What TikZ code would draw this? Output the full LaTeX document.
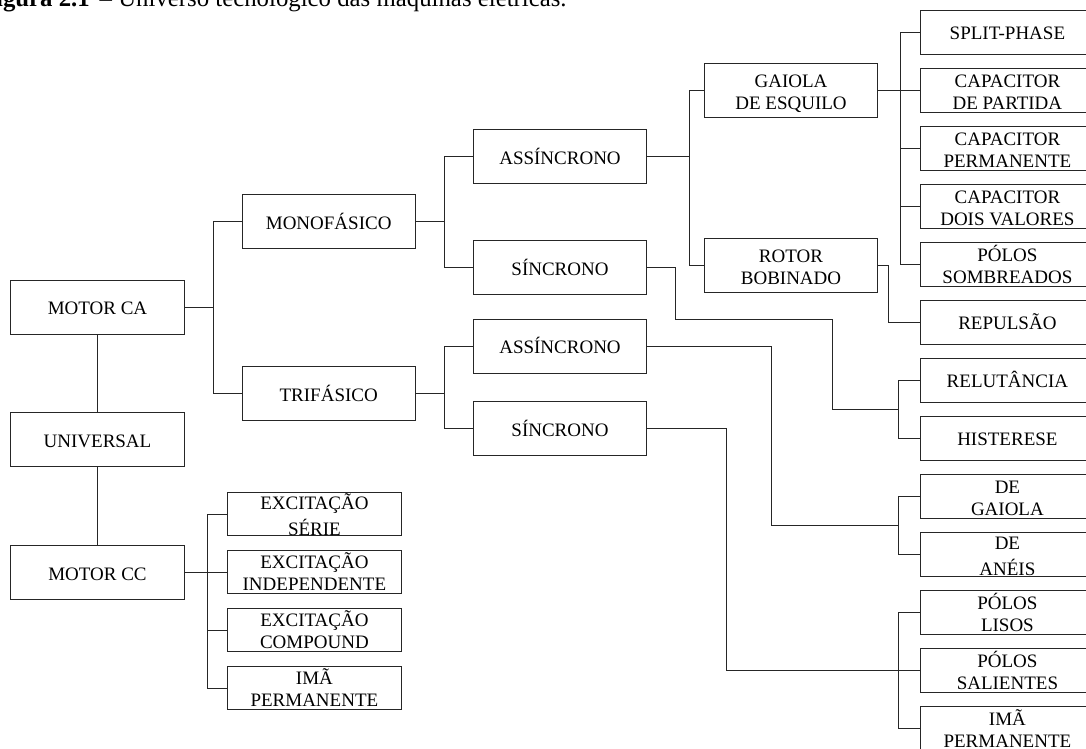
\documentclass[tikz,border=0pt]{standalone}
\usepackage{fontspec}
\setmainfont{Liberation Serif}
\usetikzlibrary{calc}
\newcommand{\mlt}[1]{\begin{tabular}[t]{@{}c@{}}#1\end{tabular}}
\tikzset{
  box/.style={draw=black!85, line width=1pt, rectangle, inner sep=0pt,
    minimum width=173.4pt, font={\fontsize{19}{22}\selectfont}, text=black},
  big1/.style={box, minimum height=54pt, text height=20pt, text depth=4.4pt},
  big2/.style={box, minimum height=54pt, text height=16pt, text depth=22.4pt},
  leaf1/.style={box, minimum height=43.4pt, text height=18pt, text depth=4.6pt},
  leaf2/.style={box, minimum height=43.4pt, text height=16pt, text depth=22.4pt},
  leafw/.style={box, minimum height=43.4pt, text height=16pt, text depth=25.4pt},
  wire/.style={draw=black!85, line width=1pt},
  captext/.style={inner sep=0pt, font={\fontsize{24.8}{30}\selectfont}, text=black}
}
\begin{document}
\begin{tikzpicture}[x=1pt, y=-1pt]
\useasboundingbox (0,0) rectangle (1086,748);
\fill[white] (0,0) rectangle (1086,748);
\clip (0,0) rectangle (1086,748);

% caption (cut at top)
\node[captext, anchor=base east] (capa) at (90,6) {\textbf{Figura 2.1}};
\node[captext, anchor=base west] (capb) at (99.5,6) {– Universo tecnológico das máquinas elétricas.};

% left column
\node[big1] (mca) at (97.5,307) {MOTOR CA};
\node[big1] (uni) at (97.5,439.7) {UNIVERSAL};
\node[big1] (mcc) at (97.5,572.5) {MOTOR CC};

% second column
\node[big1] (mono) at (328.7,221.3) {MONOFÁSICO};
\node[big1] (tri) at (328.7,393.3) {TRIFÁSICO};

% DC leaves
\node[leafw] (es) at (314.4,514) {\mlt{EXCITAÇÃO\\[3pt]SÉRIE}};
\node[leaf2] (ei) at (314.4,572) {\mlt{EXCITAÇÃO\\INDEPENDENTE}};
\node[leaf2] (ec) at (314.4,630) {\mlt{EXCITAÇÃO\\COMPOUND}};
\node[leaf2] (im) at (314.4,688) {\mlt{IMÃ\\PERMANENTE}};

% third column
\node[big1] (asm) at (560,156.2) {ASSÍNCRONO};
\node[big1] (sm) at (560,267.7) {SÍNCRONO};
\node[big1] (ast) at (560,346) {ASSÍNCRONO};
\node[big1] (st) at (560,428.7) {SÍNCRONO};

% fourth column
\node[big2] (gai) at (791,90.7) {\mlt{GAIOLA\\DE ESQUILO}};
\node[big2] (rot) at (791,265.7) {\mlt{ROTOR\\BOBINADO}};

% right leaves
\node[leaf1] (sp) at (1007.4,32.5) {SPLIT-PHASE};
\node[leaf2] (cp) at (1007.4,90.5) {\mlt{CAPACITOR\\DE PARTIDA}};
\node[leaf2] (cpe) at (1007.4,148.5) {\mlt{CAPACITOR\\PERMANENTE}};
\node[leaf2] (cdv) at (1007.4,206.5) {\mlt{CAPACITOR\\DOIS VALORES}};
\node[leaf2] (ps) at (1007.4,264.5) {\mlt{PÓLOS\\SOMBREADOS}};
\node[leaf1] (rep) at (1007.4,322.5) {REPULSÃO};
\node[leaf1] (rel) at (1007.4,380.5) {RELUTÂNCIA};
\node[leaf1] (his) at (1007.4,438.5) {HISTERESE};
\node[leaf2] (dg) at (1007.4,496.5) {\mlt{DE\\GAIOLA}};
\node[leafw] (da) at (1007.4,554.5) {\mlt{DE\\[3pt]ANÉIS}};
\node[leaf2] (pl) at (1007.4,612.5) {\mlt{PÓLOS\\LISOS}};
\node[leaf2] (psal) at (1007.4,670.5) {\mlt{PÓLOS\\SALIENTES}};
\node[leaf2] (ipr) at (1007.4,728.5) {\mlt{IMÃ\\PERMANENTE}};

% connectors
\draw[wire] (mca.south) -- (uni.north);
\draw[wire] (uni.south) -- (mcc.north);

\draw[wire] (mca.east) -- ++(29,0) coordinate (j1);
\draw[wire] (j1) |- (mono.west);
\draw[wire] (j1) |- (tri.west);

\draw[wire] (mono.east) -- ++(28.6,0) coordinate (j2);
\draw[wire] (j2) |- (asm.west);
\draw[wire] (j2) |- (sm.west);

\draw[wire] (tri.east) -- ++(28.6,0) coordinate (j3);
\draw[wire] (j3) |- (ast.west);
\draw[wire] (j3) |- (st.west);

\draw[wire] (asm.east) -- ++(42.6,0) coordinate (j4);
\draw[wire] (j4) |- (gai.west);
\draw[wire] (j4) |- (rot.west);

\draw[wire] (gai.east) -- ++(22.3,0) coordinate (j5);
\foreach \n in {sp,cp,cpe,cdv,ps} \draw[wire] (j5) |- (\n.west);

\draw[wire] (rot.east) -- ++(10.6,0) |- (rep.west);

\coordinate (k1) at ($(rel.west)!.5!(his.west)+(-21.4,0)$);
\draw[wire] (sm.east) -| (675.7,319.3) -| ([xshift=-66pt]k1) -- (k1);
\draw[wire] (k1) |- (rel.west);
\draw[wire] (k1) |- (his.west);

\coordinate (k2) at ($(dg.west)!.5!(da.west)+(-21.4,0)$);
\draw[wire] (ast.east) -| ([xshift=-127pt]k2) -- (k2);
\draw[wire] (k2) |- (dg.west);
\draw[wire] (k2) |- (da.west);

\draw[wire] (st.east) -| ([xshift=-193.4pt]psal.west) -- (psal.west);
\draw[wire] (pl.west) -- ++(-21.4,0) |- (ipr.west);

\draw[wire] (mcc.east) -- ++(22.7,0) coordinate (j7);
\foreach \n in {es,ei,ec,im} \draw[wire] (j7) |- (\n.west);
\end{tikzpicture}
\end{document}
